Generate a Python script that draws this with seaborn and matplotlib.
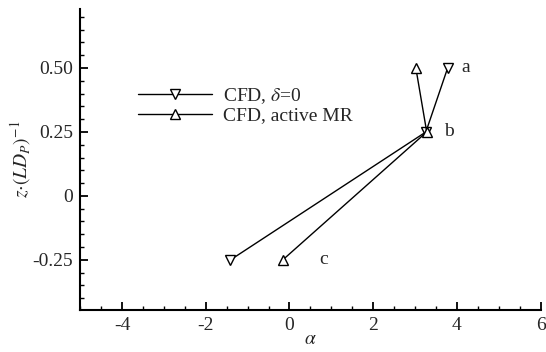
import matplotlib
matplotlib.use("Agg")
import matplotlib.pyplot as plt
import seaborn as sns
import pandas as pd
from matplotlib.ticker import MultipleLocator

sns.set_theme(style="ticks")
plt.rcParams['font.family'] = ['Liberation Serif', 'DejaVu Serif']
plt.rcParams['mathtext.fontset'] = 'stix'

alpha_cfd = [3.78, 3.26, -1.41]
z_cfd = [0.50, 0.25, -0.25]
alpha_mr = [3.02, 3.28, -0.16]
z_mr = [0.50, 0.25, -0.25]
point_labels = ["a", "b", "c"]
label_alpha = [4.1, 3.7, 0.72]
label_z = [0.50, 0.25, -0.25]

df1 = pd.DataFrame({"alpha": alpha_cfd, "z": z_cfd})
df2 = pd.DataFrame({"alpha": alpha_mr, "z": z_mr})

fig, ax = plt.subplots(figsize=(5.46, 3.52), dpi=100)
fig.subplots_adjust(left=0.147, right=0.99, top=0.974, bottom=0.12)

sns.lineplot(data=df1, x="alpha", y="z", sort=False, ax=ax, color="black", lw=1.0,
             marker="v", markersize=7.5, markerfacecolor="white", markeredgecolor="black",
             markeredgewidth=1.0, label=r"CFD, $\delta$=0")
sns.lineplot(data=df2, x="alpha", y="z", sort=False, ax=ax, color="black", lw=1.0,
             marker="^", markersize=7.5, markerfacecolor="white", markeredgecolor="black",
             markeredgewidth=1.0, label="CFD, active MR")

for t, x, y in zip(point_labels, label_alpha, label_z):
    ax.text(x, y, t, fontsize=14, va="center", ha="left")

ax.set_xlim(-5, 6)
ax.set_ylim(-0.445, 0.73)
ax.xaxis.set_minor_locator(MultipleLocator(0.5))
ax.yaxis.set_minor_locator(MultipleLocator(0.05))
ax.set_yticks([-0.25, 0, 0.25, 0.5])
ax.set_yticklabels(["-0.25", "0", "0.25", "0.50"])
ax.set_xticks([-4, -2, 0, 2, 4, 6])
ax.set_xticklabels(["-4", "-2", "0", "2", "4", "6"])
ax.tick_params(which="major", direction="in", length=6, width=1.3, labelsize=14, color="black", pad=5)
ax.tick_params(which="minor", direction="in", length=3, width=1.0, color="black")
for s in ["top", "right"]:
    ax.spines[s].set_visible(False)
for s in ["left", "bottom"]:
    ax.spines[s].set_linewidth(1.5)
    ax.spines[s].set_color("black")

ax.set_xlabel(r"$\alpha$", fontsize=14, labelpad=-2)
ax.set_ylabel(r"$z{\cdot}(LD_P)^{-1}$", fontsize=14, labelpad=0)

ax.legend(loc="upper left", bbox_to_anchor=(0.108, 0.77), frameon=False, fontsize=14,
          handlelength=3.8, numpoints=1, labelspacing=0.05, handletextpad=0.6, borderaxespad=0)

fig.savefig("out.png", dpi=100)
